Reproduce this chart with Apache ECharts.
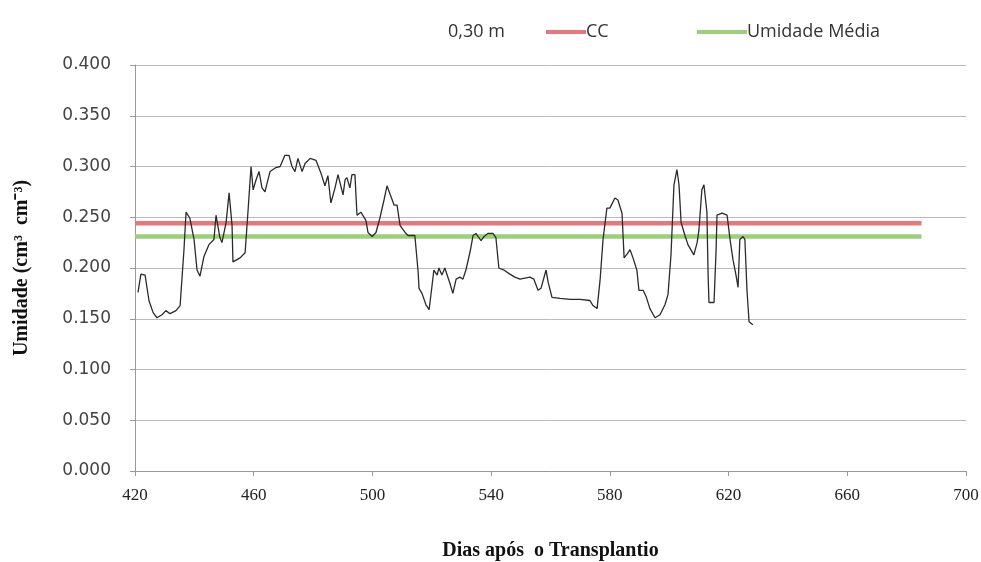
<!DOCTYPE html>
<html>
<head>
<meta charset="utf-8">
<script src="https://cdn.jsdelivr.net/npm/echarts@6/dist/echarts.min.js"></script>
<style>html,body{margin:0;padding:0;background:#fff}#c{width:981px;height:562px}</style>
</head>
<body>
<div id="c"></div>
<script>
const days = [421.0,422.0,423.4,424.7,426.1,427.4,429.1,430.4,431.8,433.8,435.2,436.5,437.2,438.5,439.9,440.9,441.9,443.2,444.9,446.6,447.3,448.6,449.3,450.7,451.7,452.7,453.0,455.4,457.1,458.1,459.1,459.8,460.8,461.8,462.8,463.8,464.8,465.5,467.5,468.9,470.5,471.9,472.9,473.9,474.9,476.3,477.3,479.0,481.0,482.7,484.0,485.0,486.0,487.4,488.4,490.1,490.8,491.4,492.4,493.1,494.1,494.8,496.1,497.8,498.5,499.9,501.2,502.5,503.9,504.9,506.3,507.3,508.3,509.3,511.0,512.0,514.3,515.4,515.7,516.7,518.0,519.1,520.1,520.7,521.8,522.4,523.4,524.4,526.1,527.1,528.2,529.5,530.5,531.5,532.9,533.9,534.9,535.6,536.6,537.6,538.9,540.6,541.6,542.6,544.3,546.3,548.0,549.7,551.4,553.1,554.4,555.8,556.8,558.5,559.2,560.5,563.2,566.6,569.9,573.3,574.3,575.7,576.7,577.7,579.0,580.0,581.7,582.7,584.1,584.8,586.1,586.8,587.8,589.1,589.8,591.2,592.2,593.5,595.2,596.9,598.6,599.6,600.6,601.6,602.6,603.3,604.0,605.3,606.3,608.3,609.4,610.0,611.0,611.7,612.7,613.1,613.4,615.1,615.8,616.1,617.8,619.5,620.5,621.5,622.5,623.2,623.8,624.9,625.5,626.2,626.9,628.2];
const umidade = [0.176,0.194,0.193,0.168,0.156,0.151,0.154,0.158,0.155,0.158,0.163,0.218,0.255,0.249,0.228,0.198,0.192,0.211,0.223,0.228,0.252,0.230,0.225,0.245,0.274,0.242,0.206,0.210,0.215,0.257,0.300,0.277,0.287,0.295,0.279,0.275,0.287,0.295,0.299,0.300,0.311,0.311,0.300,0.295,0.308,0.295,0.303,0.308,0.306,0.293,0.281,0.291,0.264,0.279,0.292,0.272,0.287,0.289,0.279,0.292,0.292,0.252,0.255,0.247,0.235,0.231,0.235,0.249,0.267,0.281,0.270,0.262,0.262,0.242,0.235,0.232,0.232,0.196,0.180,0.175,0.164,0.159,0.183,0.198,0.193,0.200,0.193,0.200,0.185,0.175,0.189,0.191,0.189,0.198,0.216,0.232,0.234,0.231,0.227,0.231,0.234,0.234,0.230,0.200,0.198,0.194,0.191,0.189,0.190,0.191,0.189,0.178,0.180,0.198,0.186,0.171,0.170,0.169,0.169,0.168,0.163,0.160,0.188,0.228,0.259,0.259,0.269,0.267,0.254,0.210,0.215,0.218,0.210,0.198,0.178,0.178,0.172,0.160,0.151,0.154,0.164,0.174,0.213,0.282,0.297,0.282,0.245,0.232,0.223,0.213,0.225,0.237,0.277,0.282,0.255,0.193,0.166,0.166,0.218,0.252,0.254,0.252,0.228,0.208,0.193,0.181,0.228,0.231,0.228,0.178,0.147,0.144];
const refDays = [420, 685];
const ccValue = [0.244, 0.244];
const mediaValue = [0.231, 0.231];
const xTicks = [420,460,500,540,580,620,660,700];
const yTicks = [0,0.05,0.1,0.15,0.2,0.25,0.3,0.35,0.4];

const legendText = {fontFamily: 'Open Sans', fontSize: 18, color: '#333', padding: [0,0,0,-5]};
const chart = echarts.init(document.getElementById('c'));
chart.setOption({
  animation: false,
  backgroundColor: '#fff',
  grid: {left: 135, right: 15, top: 65, bottom: 91, outerBoundsMode: 'none', containLabel: false},
  legend: [
    {top: 18, left: 443, itemWidth: 0, itemHeight: 4, textStyle: legendText,
      data: [{name: '0,30 m', icon: 'none'}]},
    {top: 18, left: 541, itemWidth: 40, itemHeight: 4, textStyle: legendText,
      data: [{name: 'CC', icon: 'rect'}]},
    {top: 18, left: 692, itemWidth: 50, itemHeight: 4, textStyle: legendText,
      data: [{name: 'Umidade Média', icon: 'rect'}]}
  ],
  xAxis: {
    type: 'value', min: xTicks[0], max: xTicks[xTicks.length-1], interval: 40,
    name: 'Dias após  o Transplantio', nameLocation: 'middle', nameGap: 70,
    nameTextStyle: {fontFamily: 'Liberation Serif', fontWeight: 'bold', fontSize: 20, color: '#111'},
    axisLine: {show: true, lineStyle: {color: '#999', width: 1}},
    axisTick: {show: true, inside: false, length: 5, lineStyle: {color: '#999'}},
    axisLabel: {fontFamily: 'Liberation Serif', fontSize: 17, color: '#222', margin: 16},
    splitLine: {show: false}
  },
  yAxis: {
    type: 'value', min: yTicks[0], max: yTicks[yTicks.length-1], interval: 0.05,
    name: 'Umidade (cm³  cm⁻³)', nameLocation: 'middle', nameGap: 103, nameRotate: 90,
    nameTextStyle: {fontFamily: 'Liberation Serif', fontWeight: 'bold', fontSize: 20, color: '#111'},
    axisLine: {show: true, lineStyle: {color: '#999', width: 1}},
    axisTick: {show: true, inside: false, length: 5, lineStyle: {color: '#999'}},
    axisLabel: {fontFamily: 'DejaVu Sans', fontSize: 17, color: '#444', margin: 24,
      formatter: v => v.toFixed(3)},
    splitLine: {show: true, lineStyle: {color: '#bbb', width: 1}}
  },
  series: [
    {name: '0,30 m', type: 'line', symbol: 'none', data: days.map((d,i)=>[d, umidade[i]]),
      lineStyle: {color: '#2b2b2b', width: 1.3}, itemStyle: {color: '#2b2b2b'}, z: 5},
    {name: 'CC', type: 'line', symbol: 'none', data: refDays.map((d,i)=>[d, ccValue[i]]),
      lineStyle: {color: '#e4787b', width: 4.5}, itemStyle: {color: '#e4787b'}, z: 3},
    {name: 'Umidade Média', type: 'line', symbol: 'none', data: refDays.map((d,i)=>[d, mediaValue[i]]),
      lineStyle: {color: '#9ccf7a', width: 4.5}, itemStyle: {color: '#9ccf7a'}, z: 3}
  ]
});
</script>
</body>
</html>
